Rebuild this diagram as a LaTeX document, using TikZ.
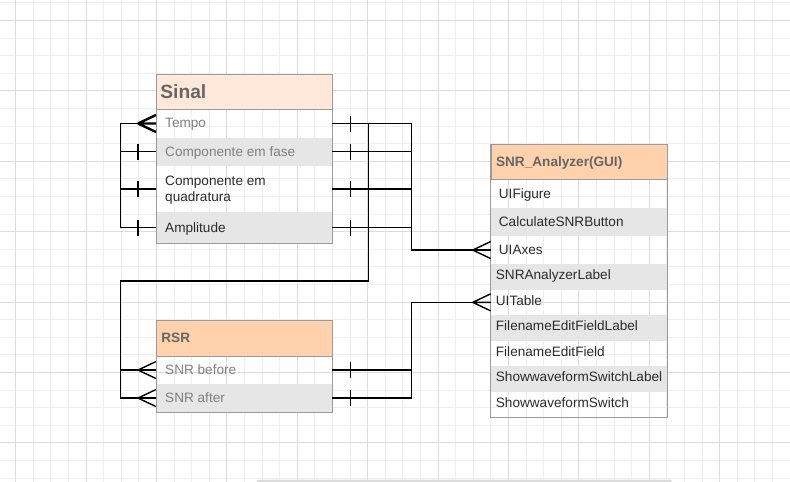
\documentclass[tikz,border=0pt]{standalone}
\usepackage{fontspec}
\setmainfont{Liberation Sans}
\definecolor{gridminor}{HTML}{EFEFEF}
\definecolor{gridmajor}{HTML}{DCDCDC}
\definecolor{hdrA}{HTML}{FFE8D9}
\definecolor{hdrB}{HTML}{FFD2AD}
\definecolor{rowg}{HTML}{E6E6E6}
\definecolor{tborder}{HTML}{9A9A9A}
\definecolor{txtgray}{HTML}{808080}
\definecolor{hdrtxt}{HTML}{666666}
\definecolor{txtdark}{HTML}{2B2B2B}
\newcommand\bodyf{\fontsize{13.6pt}{15.6pt}\selectfont}
\newcommand\celltxt[2]{\makebox[\dimexpr176pt-#1pt-#1pt\relax][l]{#2}}
\tikzset{
  cellbase/.style={rectangle, anchor=north west, minimum width=176pt, inner sep=0pt, font=\bodyf, text=txtdark},
  cell/.style={cellbase, text height=12.87pt, text depth=3.45pt},
  grayrow/.style={cell, fill=rowg},
  raised/.style={text height=10.9pt, text depth=5.4pt},
  hdr/.style={cell, draw=tborder, line width=0.8pt, text=hdrtxt, font=\bodyf\bfseries},
  tblframe/.style={draw=tborder, line width=0.8pt},
  conn/.style={draw=black, line width=1.4pt},
  pics/crowsfoot/.style={code={\draw[conn] (-18,0) -- (0,-8.5) (-18,0) -- (0,8.5) (-18,0) -- (0,0);}},
  pics/crowsfootbold/.style={code={\draw[conn, line width=2.4pt] (-18,0) -- (0,-8.5) (-18,0) -- (0,8.5) (-18,0) -- (0,0);}},
  pics/onebar/.style={code={\draw[conn] (0,-8) -- (0,8);}},
}
\begin{document}
\begin{tikzpicture}[x=1pt,y=-1pt]
\fill[white] (0,0) rectangle (790,482);
\useasboundingbox (0,0) rectangle (790,482);
% grid
\foreach \k in {0,...,45} \draw[gridminor, line width=0.8pt] ({-2+17.6*\k},0) -- ({-2+17.6*\k},482);
\foreach \k in {0,...,27} \draw[gridminor, line width=0.8pt] (0,{2.7+17.6*\k}) -- (790,{2.7+17.6*\k});
\foreach \k in {0,...,11} \draw[gridmajor, line width=0.8pt] ({15.6+70.4*\k},0) -- ({15.6+70.4*\k},482);
\foreach \k in {0,...,6} \draw[gridmajor, line width=0.8pt] (0,{20.3+70.4*\k}) -- (790,{20.3+70.4*\k});
\fill[black!14, rounded corners=1.2pt] (256.7,479.6) rectangle (671.7,483.5);

% Sinal table
\node[hdr, fill=hdrA, minimum height=35.3pt, font=\fontsize{19.2pt}{23pt}\selectfont\bfseries, text height=18.18pt, text depth=4.86pt] (sinalh) at (156,74) {\celltxt{4}{Sinal}};
\node[cell, minimum height=28pt, text=txtgray, text height=12.4pt, text depth=3.9pt] (tempo) at (156,109.3) {\celltxt{9}{Tempo}};
\node[grayrow, minimum height=28pt, text=txtgray] (fase) at (156,137.3) {\celltxt{9}{Componente em fase}};
\node[cellbase, minimum height=46.7pt] (quad) at (156,165.3) {\parbox{158pt}{\rule{0pt}{12.87pt}Componente em\\quadratura\rule[-3.45pt]{0pt}{3.45pt}}};
\node[grayrow, minimum height=30.7pt] (amp) at (156,212) {\celltxt{9}{Amplitude}};
\draw[tblframe] (sinalh.north west) rectangle (amp.south east);

% RSR table
\node[hdr, fill=hdrB, minimum height=35.7pt] (rsrh) at (156,320) {\celltxt{5}{RSR}};
\node[cell, minimum height=28.3pt, text=txtgray] (snrb) at (156,355.7) {\celltxt{9}{SNR before}};
\node[grayrow, minimum height=27.7pt, text=txtgray] (snra) at (156,384) {\celltxt{9}{SNR after}};
\draw[tblframe] (rsrh.north west) rectangle (snra.south east);

% GUI table
\node[hdr, fill=hdrB, minimum height=35.3pt] (guih) at (490.7,144) {\celltxt{5}{SNR\_Analyzer(GUI)}};
\node[cell, minimum height=28.2pt] (uifig) at (490.7,179.3) {\celltxt{8}{UIFigure}};
\node[grayrow, minimum height=28.2pt] (calc) at (490.7,207.5) {\celltxt{8}{CalculateSNRButton}};
\node[cell, minimum height=28.3pt] (uiaxes) at (490.7,235.7) {\celltxt{8}{UIAxes}};
\node[grayrow, raised, minimum height=25.3pt] (snrlab) at (490.7,264) {\celltxt{5}{SNRAnalyzerLabel}};
\node[cell, raised, minimum height=25.7pt] (uitable) at (490.7,289.3) {\celltxt{5}{UITable}};
\node[grayrow, raised, minimum height=25.3pt] (fefl) at (490.7,315) {\celltxt{5}{FilenameEditFieldLabel}};
\node[cell, raised, minimum height=25.7pt] (fef) at (490.7,340.3) {\celltxt{5}{FilenameEditField}};
\node[grayrow, raised, minimum height=25.3pt] (swsl) at (490.7,366) {\celltxt{5}{ShowwaveformSwitchLabel}};
\node[cell, raised, minimum height=25.7pt] (sws) at (490.7,391.3) {\celltxt{5}{ShowwaveformSwitch}};
\draw[tblframe] (guih.north west) rectangle (sws.south east);

% bus coordinates
\coordinate (lbus) at (120.7,0);
\coordinate (busA) at (368.3,281);
\coordinate (busL) at (120.7,281);
\coordinate (busB) at (411.7,0);

% Sinal self relations
\foreach \r in {fase,quad,amp} {
  \draw[conn] (\r.west) -- (\r.west -| lbus) |- (tempo.west);
  \pic at ([xshift=-18pt]\r.west) {onebar};
}
\pic at (tempo.west) {crowsfootbold};

% Sinal -> UIAxes
\foreach \r in {tempo,fase,quad,amp} {
  \draw[conn] (\r.east) -- (\r.east -| busB) |- (uiaxes.west);
  \pic at ([xshift=18pt]\r.east) {onebar};
}
\pic at (uiaxes.west) {crowsfoot};

% Sinal -> RSR
\foreach \r in {snrb,snra} {
  \draw[conn] (tempo.east) -| (busA) -- (busL) |- (\r.west);
  \pic at (\r.west) {crowsfoot};
}

% RSR -> UITable
\foreach \r in {snrb,snra} {
  \draw[conn] (\r.east) -- (\r.east -| busB) |- (uitable.west);
  \pic at ([xshift=18pt]\r.east) {onebar};
}
\pic at (uitable.west) {crowsfoot};
\end{tikzpicture}
\end{document}
